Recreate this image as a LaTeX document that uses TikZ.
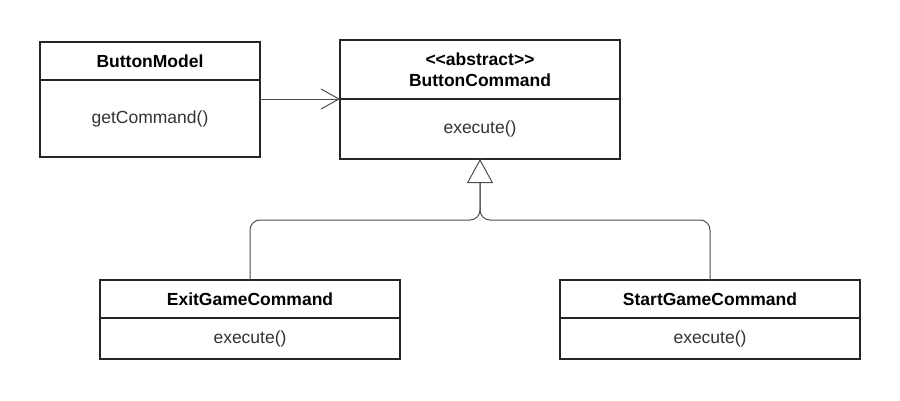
\documentclass[tikz,border=0pt]{standalone}
\usepackage{fontspec}
\setmainfont{Liberation Sans}
\usetikzlibrary{arrows.meta, positioning, calc}

\begin{document}
\begin{tikzpicture}[x=1pt, y=-1pt, font=\fontsize{17.5}{21}\selectfont,
  head/.style={draw=black!85, line width=1.5pt, fill=white, outer sep=0pt, inner sep=0pt, align=center, font=\fontsize{17.5}{21}\selectfont\bfseries},
  body/.style={draw=black!85, line width=1.5pt, fill=white, outer sep=0pt, inner sep=0pt, text=black!80},
  link/.style={draw=black!70, line width=1pt},
  assoc/.style={link, -{Straight Barb[length=18pt, width=20pt, line width=1pt]}},
  inherit/.style={link, rounded corners=10pt, -{Triangle[length=24pt, width=26pt, fill=white, line width=1pt]}}]
\useasboundingbox (0,0) rectangle (900,400);
% Classes
\node[head, minimum width=220pt, minimum height=38pt] (bmhead) at (150,61) {ButtonModel};
\node[body, minimum width=220pt, minimum height=77pt, below=0pt of bmhead] (bmbody) {getCommand()};
\node[head, minimum width=280pt, minimum height=59pt] (bchead) at (480,69.5) {{<}{<}abstract{>}{>}\\ButtonCommand};
\node[body, minimum width=280pt, minimum height=60pt, below=0pt of bchead] (bcbody) {execute()};
\node[head, minimum width=300pt, minimum height=38pt] (exhead) at (250,299) {ExitGameCommand};
\node[body, minimum width=300pt, minimum height=41pt, below=0pt of exhead] (exbody) {execute()};
\node[head, minimum width=300pt, minimum height=38pt] (sthead) at (710,299) {StartGameCommand};
\node[body, minimum width=300pt, minimum height=41pt, below=0pt of sthead] (stbody) {execute()};

% Arrows
\coordinate (join) at (480,220);
\draw[assoc] (bmbody.east |- bcbody.north) -- (bcbody.north west);
\draw[link, rounded corners=10pt] (sthead.north) |- (join) -- (bcbody.south);
\draw[inherit] (exhead.north) |- (join) -- (bcbody.south);
\end{tikzpicture}
\end{document}
